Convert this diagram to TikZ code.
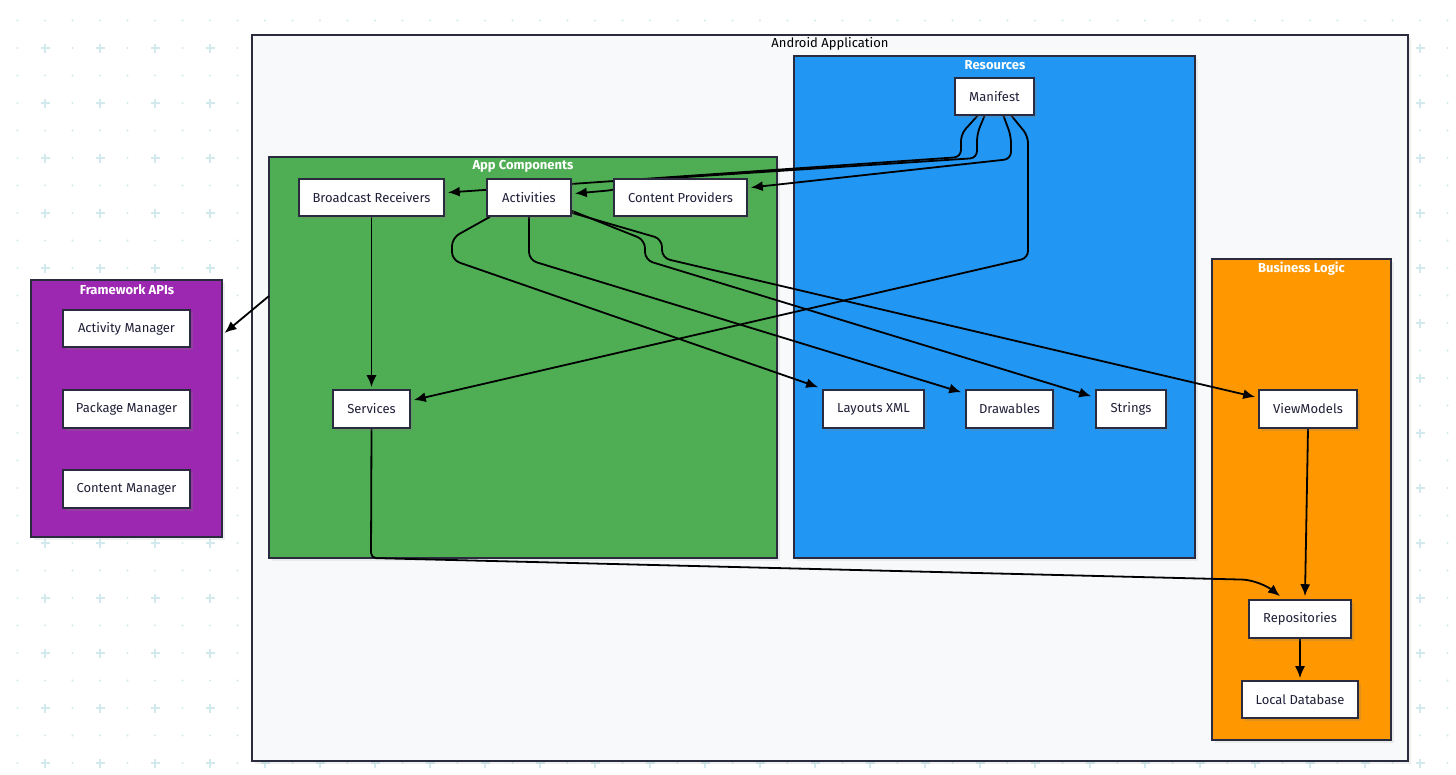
\documentclass[tikz,border=0pt]{standalone}
\usepackage{fontspec}
\setmainfont{Fira Sans}
\usetikzlibrary{arrows.meta,shadows}
\pgfdeclarelayer{gridlayer}
\pgfdeclarelayer{bg}
\pgfdeclarelayer{edges}
\pgfsetlayers{gridlayer,bg,edges,main}
\definecolor{gridc}{HTML}{D2EAEE}
\definecolor{appbg}{HTML}{F8F9FB}
\definecolor{greenc}{HTML}{4FAE53}
\definecolor{bluec}{HTML}{2196F3}
\definecolor{orangec}{HTML}{FF9800}
\definecolor{purplec}{HTML}{9C27B0}
\definecolor{linec}{HTML}{2B2B40}
\definecolor{textc}{HTML}{1F1F38}
\tikzset{
  cluster/.style={draw=linec, line width=1.5pt, inner sep=0pt,
    drop shadow={opacity=0.12, shadow xshift=3pt, shadow yshift=-3pt}},
  clabel/.style={text=white, font=\fontsize{13}{15}\selectfont\bfseries, inner sep=0pt},
  box/.style={draw=linec, line width=1.6pt, fill=white, inner sep=0pt,
    minimum height=37pt, text=textc, font=\fontsize{13}{15}\selectfont,
    drop shadow={opacity=0.25, shadow xshift=2.5pt, shadow yshift=-2.5pt}},
  edge/.style={draw=black, line width=1.8pt, -{Latex[length=12pt,width=10pt]}},
  plusmark/.style={draw=gridc, line width=1.1pt},
}
\begin{document}
\begin{tikzpicture}[x=1pt,y=-1pt]
\useasboundingbox (0,0) rectangle (1456,774);
\begin{pgfonlayer}{gridlayer}
\fill[white] (0,0) rectangle (1456,774);
\foreach \i in {0,...,53}{
  \foreach \j in {0,...,28}{
    \fill[gridc] (17.5+27.5*\i,20.5+27.5*\j) circle[radius=1.2pt];
  }
}
\foreach \i in {0,...,26}{
  \foreach \j in {0,...,13}{
    \draw[plusmark] (45+55*\i-4.5,48+55*\j) -- (45+55*\i+4.5,48+55*\j)
                    (45+55*\i,48+55*\j-4.5) -- (45+55*\i,48+55*\j+4.5);
  }
}
\end{pgfonlayer}
% clusters
\begin{pgfonlayer}{bg}
\node[cluster, fill=appbg, minimum width=1156pt, minimum height=726pt] (andr) at (830,398) {};
\node[cluster, fill=bluec, minimum width=401pt, minimum height=502pt] (res) at (994.5,307) {};
\node[cluster, fill=greenc, minimum width=508pt, minimum height=401pt] (appc) at (523,357.5) {};
\node[cluster, fill=orangec, minimum width=179pt, minimum height=481pt] (biz) at (1301.5,499.5) {};
\node[cluster, fill=purplec, minimum width=191pt, minimum height=257pt] (fw) at (126.5,408.5) {};
\end{pgfonlayer}
\node[clabel, text=black, font=\fontsize{13}{15}\selectfont] (andrl) at (830,44) {Android Application};
\node[clabel] (resl) at (995,65.5) {Resources};
\node[clabel] (appcl) at (523,166.5) {App Components};
\node[clabel] (bizl) at (1301.5,268.5) {Business Logic};
\node[clabel] (fwl) at (127,289.5) {Framework APIs};
% nodes
\node[box, minimum width=79pt] (manifest) at (994.5,96.5) {Manifest};
\node[box, minimum width=145pt] (br) at (371.5,197.5) {Broadcast Receivers};
\node[box, minimum width=84pt] (act) at (529,197.5) {Activities};
\node[box, minimum width=133pt] (cp) at (680.5,197.5) {Content Providers};
\node[box, minimum width=77pt, minimum height=38pt] (serv) at (371.5,409) {Services};
\node[box, minimum width=101pt, minimum height=38pt] (lay) at (873.5,409) {Layouts XML};
\node[box, minimum width=87pt, minimum height=38pt] (drw) at (1009.5,409) {Drawables};
\node[box, minimum width=70pt, minimum height=38pt] (str) at (1131,409) {Strings};
\node[box, minimum width=98pt, minimum height=38pt] (vm) at (1308,409) {ViewModels};
\node[box, minimum width=102pt, minimum height=38pt] (repo) at (1300,619) {Repositories};
\node[box, minimum width=116pt] (ldb) at (1300,699.5) {Local Database};
\node[box, minimum width=127pt] (am) at (126.5,328.5) {Activity Manager};
\node[box, minimum width=127pt, minimum height=38pt] (pm) at (126.5,409) {Package Manager};
\node[box, minimum width=127pt, minimum height=38pt] (cmgr) at (126.5,489) {Content Manager};
\coordinate (appcout) at (269,296);
\coordinate (fwin) at (224.5,333);
% edges
\begin{pgfonlayer}{edges}
\draw[edge, rounded corners=7pt] ([xshift=-17pt]manifest.south) -- (961,134) -- (961,157) -- ([xshift=3pt,yshift=5pt]br.east);
\draw[edge, rounded corners=7pt] ([xshift=-10pt]manifest.south) -- (977,134) -- (977,158) -- (640,180) -- (614,190) -- ([xshift=3pt,yshift=4pt]act.east);
\draw[edge, rounded corners=7pt] ([xshift=9pt]manifest.south) -- (1011,136) -- (1011,159) -- ([xshift=3pt,yshift=10pt]cp.east);
\draw[edge, rounded corners=7pt] ([xshift=17pt]manifest.south) -- (1028,136) -- (1028,258) -- ([xshift=3pt,yshift=9pt]serv.east);
\draw[edge, rounded corners=8pt] ([xshift=-39pt]act.south) -- (452,238) -- (452,260) -- ([xshift=-4pt,yshift=2pt]lay.north west);
\draw[edge, rounded corners=8pt] (act.south) -- (529,260) -- ([xshift=-4pt,yshift=-3pt]drw.north west);
\draw[edge, rounded corners=8pt] ([yshift=6pt]act.south east) -- (645,240) -- (645,260) -- ([xshift=-4pt,yshift=-7pt]str.north west);
\draw[edge, rounded corners=8pt] ([yshift=4pt]act.south east) -- (662,239) -- (662,258) -- ([xshift=-3pt,yshift=12pt]vm.west);
\draw[edge] (serv.south) [rounded corners=5pt] -- (371,558) [rounded corners=18pt] -- (1260,580) -- ([xshift=-20pt,yshift=3pt]repo.north);
\draw[edge] (vm.south) -- ([xshift=5pt,yshift=3pt]repo.north);
\draw[edge] (repo.south) -- ([yshift=2pt]ldb.north);
\draw[edge] (br.south) -- ([yshift=2pt]serv.north);
\draw[edge] (appcout) -- (fwin);
\end{pgfonlayer}
\end{tikzpicture}
\end{document}
